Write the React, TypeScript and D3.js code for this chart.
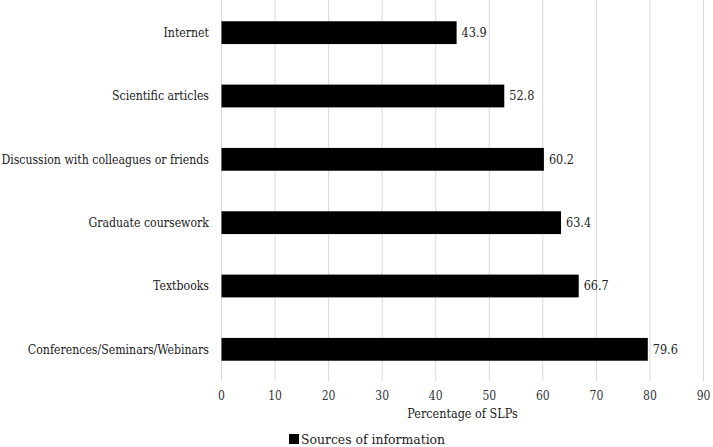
import { useEffect, useRef } from 'react';
import * as d3 from 'd3';

const categories = [
  'Internet',
  'Scientific articles',
  'Discussion with colleagues or friends',
  'Graduate coursework',
  'Textbooks',
  'Conferences/Seminars/Webinars',
];
const values = [43.9, 52.8, 60.2, 63.4, 66.7, 79.6];
const ticks = [0, 10, 20, 30, 40, 50, 60, 70, 80, 90];
const seriesName = 'Sources of information';
const axisTitle = 'Percentage of SLPs';

export default function App() {
  const ref = useRef<SVGSVGElement>(null);

  useEffect(() => {
    const W = 713, H = 447;
    const svg = d3.select(ref.current);
    svg.selectAll('*').remove();
    svg.attr('width', W).attr('height', H).attr('viewBox', `0 0 ${W} ${H}`)
      .style('font-family', "'DejaVu Serif Condensed', 'DejaVu Serif', serif")
      .style('font-stretch', 'condensed');

    const x = d3.scaleLinear().domain([0, 90]).range([221.5, 703.5]);
    const y = d3.scaleBand<string>().domain(categories).range([1, 381]).paddingInner(0.64).paddingOuter(0.32);

    // gridlines
    svg.append('g')
      .selectAll('line')
      .data(ticks)
      .enter().append('line')
      .attr('x1', d => x(d)).attr('x2', d => x(d))
      .attr('y1', 0).attr('y2', 381)
      .attr('stroke', '#d9d9d9').attr('stroke-width', 1);

    // bars
    svg.append('g')
      .selectAll('rect')
      .data(values)
      .enter().append('rect')
      .attr('x', x(0))
      .attr('y', (d, i) => y(categories[i])!)
      .attr('width', d => x(d) - x(0))
      .attr('height', y.bandwidth())
      .attr('fill', '#000');

    // value labels
    svg.append('g')
      .selectAll('text')
      .data(values)
      .enter().append('text')
      .attr('x', d => x(d) + 5)
      .attr('y', (d, i) => y(categories[i])! + y.bandwidth() / 2)
      .attr('dy', '0.35em')
      .attr('font-size', 12.5).attr('fill', '#222')
      .text(d => d.toFixed(1));

    // category labels
    svg.append('g')
      .selectAll('text')
      .data(categories)
      .enter().append('text')
      .attr('x', 209)
      .attr('y', d => y(d)! + y.bandwidth() / 2)
      .attr('dy', '0.35em')
      .attr('text-anchor', 'end')
      .attr('font-size', 12.2).attr('fill', '#222')
      .text(d => d);

    // tick labels
    svg.append('g')
      .selectAll('text')
      .data(ticks)
      .enter().append('text')
      .attr('x', d => x(d))
      .attr('y', 396)
      .attr('dy', '0.35em')
      .attr('text-anchor', 'middle')
      .attr('font-size', 12).attr('fill', '#333')
      .text(d => d);

    svg.append('text')
      .attr('x', x(45)).attr('y', 414).attr('dy', '0.35em')
      .attr('text-anchor', 'middle')
      .attr('font-size', 12.5).attr('fill', '#222')
      .text(axisTitle);

    // legend
    const lg = svg.append('g');
    lg.append('rect').attr('x', 289).attr('y', 434).attr('width', 10).attr('height', 10).attr('fill', '#000');
    lg.append('text')
      .attr('x', 301).attr('y', 439).attr('dy', '0.35em')
      .attr('font-size', 13.8).attr('fill', '#222')
      .text(seriesName);
  }, []);

  return (
    <div style={{ position: 'absolute', left: 0, top: 0, background: '#fff' }}>
      <svg ref={ref} style={{ display: 'block' }}></svg>
    </div>
  );
}
